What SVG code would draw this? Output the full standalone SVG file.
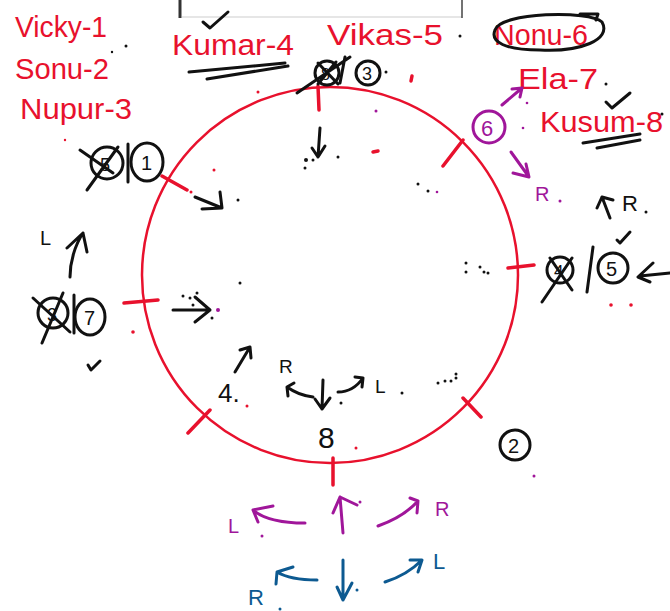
<svg xmlns="http://www.w3.org/2000/svg" width="670" height="611" viewBox="0 0 670 611">
<style>
.k{stroke:#111;stroke-width:3;fill:none;stroke-linecap:round;stroke-linejoin:round}
.r{stroke:#e8112d;stroke-width:3.5;fill:none;stroke-linecap:round}
.p{stroke:#a0169a;stroke-width:3;fill:none;stroke-linecap:round;stroke-linejoin:round}
.b{stroke:#0d5a91;stroke-width:3;fill:none;stroke-linecap:round;stroke-linejoin:round}
.tr{fill:#e8112d;font-family:"Liberation Sans",Arial,sans-serif;font-size:29px}
.tk{fill:#111;font-family:"Liberation Sans",Arial,sans-serif}
.tp{fill:#a0169a;font-family:"Liberation Sans",Arial,sans-serif;font-size:20px}
.tb{fill:#0d5a91;font-family:"Liberation Sans",Arial,sans-serif;font-size:22px}
.dk{fill:#111}.dr{fill:#e8112d}.dp{fill:#a0169a}
</style>
<rect width="670" height="611" fill="#fff"/>
<g id="topbox">
<line x1="180" y1="0" x2="180" y2="18" stroke="#333" stroke-width="3"/>
<line x1="182" y1="17" x2="462" y2="17" stroke="#e6e6e6" stroke-width="2"/>
<line x1="462" y1="0" x2="462" y2="18" stroke="#444" stroke-width="1.5"/>
</g>
<g id="names">
<text class="tr" x="15" y="37" textLength="92" lengthAdjust="spacingAndGlyphs">Vicky-1</text>
<text class="tr" x="15" y="79" textLength="94" lengthAdjust="spacingAndGlyphs">Sonu-2</text>
<text class="tr" x="20" y="119" textLength="112" lengthAdjust="spacingAndGlyphs">Nupur-3</text>
<text class="tr" x="172" y="55" textLength="122" lengthAdjust="spacingAndGlyphs">Kumar-4</text>
<text class="tr" x="327" y="45" textLength="116" lengthAdjust="spacingAndGlyphs">Vikas-5</text>
<text class="tr" x="494" y="45" textLength="94" lengthAdjust="spacingAndGlyphs">Nonu-6</text>
<text class="tr" x="518" y="89" textLength="80" lengthAdjust="spacingAndGlyphs">Ela-7</text>
<text class="tr" x="540" y="132" textLength="123" lengthAdjust="spacingAndGlyphs" font-size="27">Kusum-8</text>
<path class="k" d="M189 72 L285 63 M207 79 L288 66"/>
<path class="k" d="M203 22 L210 28 L228 12"/>
<path class="k" d="M495 30 C500 12 590 10 602 22 C612 40 580 52 540 50 C505 50 490 42 495 30 M580 14 L598 14 L596 20"/>
<path class="k" d="M583 143 L640 134 M597 148 L640 140"/>
<path class="k" d="M606 102 L612 108 L630 93"/>
<circle class="dk" cx="126" cy="46" r="1.5"/><circle class="dk" cx="112" cy="52" r="1.2"/>
<circle class="dk" cx="460" cy="36" r="1.5"/><circle class="dk" cx="606" cy="84" r="1.5"/><circle class="dk" cx="662" cy="114" r="1.5"/>
</g>
<g id="ring">
<circle cx="330" cy="275" r="188" stroke="#e8112d" stroke-width="2.5" fill="none"/>
<path class="r" d="M318 86 L319 110 M463 140 L443 166 M162 176 L187 190 M124 303 L158 300 M508 268 L534 265 M463 398 L481 417 M210 410 L188 433 M333 458 L333 485"/>
<circle class="dr" cx="191" cy="192" r="1.5"/>
</g>
<g id="seat-top">
<circle class="k" cx="327" cy="73" r="12" stroke-width="2.5"/>
<text class="tk" x="321" y="80" font-size="16">8</text>
<path class="k" d="M297 93 L350 57 M318 63 L338 84 M336 62 L318 84 M345 57 L340 83"/>
<circle class="k" cx="368" cy="73" r="12" stroke-width="2.5"/>
<text class="tk" x="362" y="80" font-size="18">3</text>
<circle class="dk" cx="386" cy="72" r="1.5"/>
<path class="k" d="M320 128 L318 157 M312 148 L318 157 L325 146"/>
<circle class="dk" cx="306" cy="160" r="2"/><circle class="dk" cx="313" cy="160" r="1.5"/><circle class="dk" cx="338" cy="157" r="1.5"/><circle class="dk" cx="305" cy="168" r="1.5"/>
<circle class="dp" cx="376" cy="111" r="1.5"/>
<path class="r" d="M412 76 L411 81 M373 152 L378 151" stroke-width="3"/>
<circle class="dr" cx="258" cy="92" r="1.5"/>
</g>
<g id="seat-6">
<circle class="p" cx="489" cy="127" r="16" stroke-width="2.5"/>
<text x="481" y="136" fill="#a0169a" font-family="Liberation Sans,Arial,sans-serif" font-size="22">6</text>
<path class="p" d="M502 105 L522 88 M512 89 L522 88 L520 97"/>
<path class="p" d="M511 152 L529 177 M513 173 L529 177 L526 164"/>
<text class="tp" x="535" y="201">R</text>
<circle class="dp" cx="560" cy="201" r="1.5"/>
<circle class="dp" cx="527" cy="103" r="1.3"/><circle class="dp" cx="523" cy="128" r="1.3"/>
</g>
<g id="seat-right">
<path class="k" d="M610 218 L602 197 M597 208 L602 197 L613 200"/>
<text class="tk" x="622" y="211" font-size="22">R</text>
<circle class="dk" cx="646" cy="212" r="1.5"/>
<path class="k" d="M617 240 L620 243 L630 232"/>
<circle class="k" cx="560" cy="270" r="13" stroke-width="2.5"/>
<text class="tk" x="554" y="277" font-size="17">4</text>
<path class="k" d="M542 302 L572 258 M550 258 L572 290 M593 247 L587 292"/>
<circle class="k" cx="613" cy="268" r="15" stroke-width="2.5"/>
<text class="tk" x="606" y="276" font-size="20">5</text>
<path class="k" d="M653 263 L638 277 L650 282 M640 276 L670 273"/>
<circle class="dr" cx="611" cy="305" r="1.8"/><circle class="dr" cx="631" cy="305" r="1.8"/>
<circle class="dk" cx="466" cy="263" r="1.5"/><circle class="dk" cx="466" cy="272" r="1.5"/><circle class="dk" cx="480" cy="267" r="1.5"/><circle class="dk" cx="484" cy="272" r="1.5"/><circle class="dk" cx="488" cy="273" r="1.5"/>
<circle class="dk" cx="418" cy="184" r="1.5"/><circle class="dk" cx="428" cy="191" r="1.5"/><circle class="dp" cx="437" cy="192" r="1.3"/>
<circle class="dk" cx="438" cy="383" r="1.5"/><circle class="dk" cx="445" cy="381" r="1.5"/><circle class="dk" cx="451" cy="381" r="1.5"/><circle class="dk" cx="456" cy="378" r="1.5"/><circle class="dk" cx="456" cy="374" r="1.5"/>
</g>
<g id="seat-2">
<circle class="k" cx="515" cy="445" r="15" stroke-width="2.5"/>
<text class="tk" x="508" y="453" font-size="20">2</text>
<circle class="dp" cx="534" cy="476" r="1.5"/>
</g>
<g id="seat-left-upper">
<circle class="k" cx="107" cy="163" r="16" stroke-width="2.5"/>
<text class="tk" x="100" y="171" font-size="18">5</text>
<path class="k" d="M87 190 L118 147 M80 150 L113 173 M128 144 L128 182"/>
<ellipse class="k" cx="147" cy="162" rx="16" ry="19" stroke-width="2.5"/>
<text class="tk" x="141" y="170" font-size="20">1</text>
<path class="k" d="M195 197 L222 208 M220 192 L222 208 L202 209"/>
<circle class="dk" cx="238" cy="200" r="1.5"/>
<circle class="dr" cx="214" cy="170" r="1.5"/>
<circle class="dr" cx="65" cy="140" r="1.2"/>
</g>
<g id="seat-left-lower">
<path class="k" d="M70 277 C70 262 75 245 83 233 M67 248 L83 233 L87 252"/>
<text class="tk" x="40" y="245" font-size="20">L</text>
<circle class="k" cx="53" cy="313" r="15" stroke-width="2.5"/>
<text class="tk" x="47" y="321" font-size="18">3</text>
<path class="k" d="M33 298 L70 332 M42 343 L63 293 M74 295 L74 333"/>
<ellipse class="k" cx="90" cy="317" rx="15" ry="18" stroke-width="2.5"/>
<text class="tk" x="84" y="325" font-size="20">7</text>
<path class="k" d="M88 365 L91 370 L100 361"/>
<circle class="dr" cx="133" cy="332" r="1.8"/>
<path class="k" d="M173 310 L210 310 M195 297 L210 310 L195 322"/>
<circle class="dk" cx="183" cy="296" r="1.5"/><circle class="dk" cx="190" cy="298" r="1.5"/><circle class="dk" cx="197" cy="293" r="1.5"/><circle class="dk" cx="193" cy="305" r="1.5"/><circle class="dk" cx="212" cy="318" r="1.5"/>
<circle class="dp" cx="218" cy="310" r="2"/>
<circle class="dk" cx="240" cy="283" r="1.5"/>
</g>
<g id="seat-bottom">
<path class="k" d="M235 372 L250 347 M240 350 L250 347 L251 358"/>
<text class="tk" x="218" y="402" font-size="26">4.</text>
<circle class="dr" cx="247" cy="406" r="1.5"/>
<text class="tk" x="279" y="373" font-size="19">R</text>
<path class="k" d="M313 397 C303 396 294 392 287 387 M288 396 L287 387 L294 383"/>
<path class="k" d="M323 380 L322 409 M315 399 L322 409 L330 398"/>
<circle class="dk" cx="341" cy="403" r="1.5"/>
<path class="k" d="M338 392 C348 392 356 388 363 378 M355 377 L363 378 L362 387"/>
<text class="tk" x="375" y="393" font-size="19">L</text>
<circle class="dk" cx="402" cy="393" r="1.5"/>
<text class="tk" x="318" y="448" font-size="30">8</text>
<circle class="dr" cx="356" cy="448" r="1.5"/>
</g>
<g id="connectors">
<path class="p" d="M343 533 L340 497 M333 513 L340 497 L357 505"/>
<circle class="dp" cx="360" cy="502" r="1.5"/>
<path class="p" d="M305 523 C285 523 265 520 253 510 M258 522 L253 510 L273 506"/>
<text class="tp" x="228" y="533" font-size="22">L</text>
<circle class="dp" cx="262" cy="536" r="1.5"/>
<path class="p" d="M378 526 C395 520 408 512 418 501 M410 498 L418 501 L417 513"/>
<text class="tp" x="435" y="516" font-size="24">R</text>
<path class="b" d="M343 560 L343 600 M337 587 L343 600 L352 583"/>
<circle cx="357" cy="590" r="1.5" fill="#0d5a91"/>
<path class="b" d="M317 580 C303 580 287 578 277 572 M276 584 L277 572 L293 567"/>
<text class="tb" x="248" y="605" font-size="26">R</text>
<circle cx="280" cy="609" r="1.5" fill="#0d5a91"/>
<path class="b" d="M385 582 C398 578 412 570 422 560 M410 560 L422 560 L418 572"/>
<text class="tb" x="433" y="569" font-size="20">L</text>
</g>
</svg>
